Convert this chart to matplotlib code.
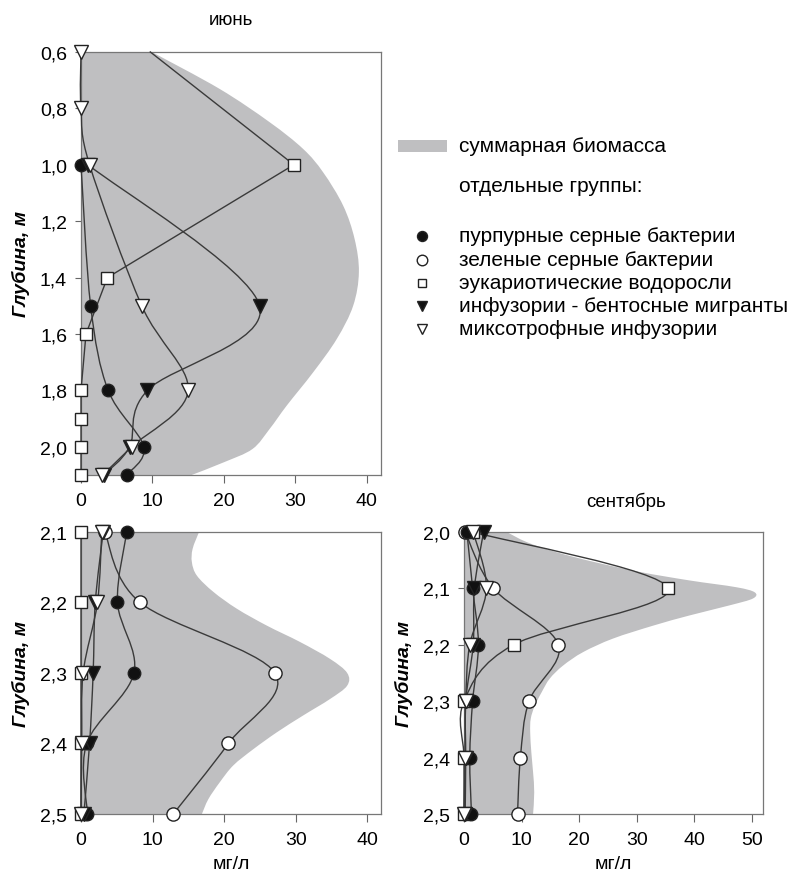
import numpy as np
import matplotlib
matplotlib.use('Agg')
import matplotlib.pyplot as plt
from matplotlib.path import Path
from matplotlib.patches import PathPatch, Rectangle

plt.rcParams['font.family'] = ['Liberation Sans', 'DejaVu Sans']
plt.rcParams['font.size'] = 14

# ---- June, 0.6-2.1 m ----
jun_total_d = [0.6, 0.731, 0.849, 0.944, 1.027, 1.145, 1.263, 1.381, 1.5, 1.618,
               1.736, 1.854, 1.937, 2.008, 2.055, 2.1]
jun_total_x = [9.9, 19.4, 26.4, 31.1, 33.9, 36.7, 38.3, 38.9, 38.1, 35.8,
               32.5, 28.8, 26.4, 24.0, 20.0, 15.5]

jun_purple_d = [1.0, 1.5, 1.8, 2.0, 2.1]
jun_purple_x = [0.0, 1.35, 3.8, 8.8, 6.4]
jun_algae_d = [0.6, 1.0, 1.4, 1.6, 1.8, 1.9, 2.0, 2.1]
jun_algae_x = [9.7, 29.8, 3.7, 0.7, 0.0, 0.0, 0.0, 0.0]
jun_benthic_d = [1.0, 1.5, 1.8, 2.0, 2.1]
jun_benthic_x = [1.0, 25.0, 9.3, 6.8, 3.2]
jun_mixo_d = [0.6, 0.8, 1.0, 1.5, 1.8, 2.0, 2.1]
jun_mixo_x = [0.0, 0.0, 1.2, 8.5, 15.0, 7.1, 3.0]

# ---- June, 2.1-2.5 m ----
jun2_d = [2.1, 2.2, 2.3, 2.4, 2.5]
jun2_purple = [6.4, 5.1, 7.4, 0.8, 0.9]
jun2_green = [3.3, 8.25, 27.1, 20.6, 12.9]
jun2_algae = [0.0, 0.0, 0.0, 0.0, 0.0]
jun2_benthic = [3.1, 2.0, 1.7, 1.2, 0.4]
jun2_mixo = [2.9, 2.3, 0.3, 0.1, 0.0]

jun2_total_d = [2.1, 2.124, 2.143, 2.162, 2.185, 2.209, 2.233, 2.256, 2.28, 2.3,
                2.318, 2.337, 2.36, 2.384, 2.408, 2.431, 2.455, 2.479, 2.5]
jun2_total_x = [16.5, 15.6, 15.5, 16.2, 18.5, 21.8, 26.0, 30.6, 34.8, 37.2,
                37.2, 34.8, 31.1, 27.4, 24.1, 21.3, 19.4, 17.8, 16.9]

# ---- September, 2.0-2.5 m ----
sep_d = [2.0, 2.1, 2.2, 2.3, 2.4, 2.5]
sep_purple = [0.5, 1.5, 2.5, 1.5, 1.0, 1.3]
sep_green = [0.2, 5.1, 16.4, 11.3, 9.8, 9.3]
sep_algae = [1.5, 35.5, 8.6, 0.0, 0.0, 0.0]
sep_benthic = [3.4, 1.8, 1.6, 0.3, 0.3, 0.2]
sep_mixo = [1.6, 3.9, 1.0, 0.3, 0.2, 0.0]

sep_total_d = [2.0, 2.018, 2.036, 2.053, 2.071, 2.086, 2.098, 2.107, 2.118, 2.13,
               2.148, 2.166, 2.189, 2.213, 2.237, 2.26, 2.284, 2.308, 2.331, 2.355,
               2.391, 2.426, 2.462, 2.5]
sep_total_x = [7.4, 10.9, 16.1, 22.5, 30.6, 39.2, 47.3, 50.5, 50.2, 46.2,
               39.2, 32.9, 25.9, 20.7, 17.2, 14.9, 13.5, 12.3, 11.6, 11.5,
               11.7, 12.0, 12.2, 12.0]

labels = ['пурпурные серные бактерии', 'зеленые серные бактерии',
          'эукариотические водоросли', 'инфузории - бентосные мигранты',
          'миксотрофные инфузории']

GRAY = '#bfbfc1'
LINE = '#3a3a3a'
EDGE = '#222222'
styles = {
    'purple': dict(marker='o', mfc='#111111', ms=9),
    'green': dict(marker='o', mfc='white', ms=9.5),
    'algae': dict(marker='s', mfc='white', ms=8),
    'benthic': dict(marker='v', mfc='#111111', ms=9.5),
    'mixo': dict(marker='v', mfc='white', ms=9.5),
}


def bezier(x, d):
    # Catmull-Rom curve through the points, as cubic bezier pieces
    pts = np.column_stack([x, d]).astype(float)
    verts = [pts[0]]
    codes = [Path.MOVETO]
    n = len(pts)
    for i in range(n - 1):
        p0 = pts[max(i - 1, 0)]
        p1 = pts[i]
        p2 = pts[i + 1]
        p3 = pts[min(i + 2, n - 1)]
        verts += [p1 + (p2 - p0) / 6, p2 - (p3 - p1) / 6, p2]
        codes += [Path.CURVE4] * 3
    return verts, codes


def total_fill(ax, x, d):
    verts, codes = bezier(x, d)
    verts = [(0, d[0])] + verts + [(0, d[-1]), (0, d[0])]
    codes = [Path.MOVETO, Path.LINETO] + codes[1:] + [Path.LINETO, Path.CLOSEPOLY]
    ax.add_patch(PathPatch(Path(verts, codes), fc=GRAY, ec='none', lw=0, zorder=1))


def series(ax, x, d, kind, curve=True, mark=slice(0, None)):
    if curve:
        verts, codes = bezier(x, d)
        ax.add_patch(PathPatch(Path(verts, codes), fill=False, ec=LINE, lw=1.0,
                               zorder=3, clip_on=False))
    else:
        ax.plot(x, d, color=LINE, lw=1.0, zorder=3, clip_on=False)
    st = styles[kind]
    ax.plot(np.asarray(x)[mark], np.asarray(d)[mark], ls='none', mec=EDGE, mew=1.0,
            zorder=4, clip_on=False, **st)


def style_axes(ax, xmax, ylim, yticks, xticks):
    ax.set_xlim(0, xmax)
    ax.set_ylim(ylim[1], ylim[0])
    ax.set_yticks(yticks)
    ax.set_yticklabels([('%.1f' % t).replace('.', ',') for t in yticks])
    ax.set_xticks(xticks)
    for s in ax.spines.values():
        s.set_color('#777777')
        s.set_linewidth(0.9)
    ax.tick_params(axis='x', direction='out', length=6, pad=6, color='#666666')
    ax.tick_params(axis='y', direction='out', length=4, pad=6, color='#666666')
    ax.set_ylabel('Глубина, м', fontweight='bold', fontstyle='italic')
    ax.yaxis.set_label_coords(-0.17, 0.5)


fig = plt.figure(figsize=(7.91, 8.78), dpi=100)

# June upper
ax1 = fig.add_axes([0.1024, 0.4579, 0.3793, 0.4818])
total_fill(ax1, jun_total_x, jun_total_d)
series(ax1, jun_algae_x, jun_algae_d, 'algae', curve=False, mark=slice(1, None))
series(ax1, jun_purple_x, jun_purple_d, 'purple')
series(ax1, jun_benthic_x, jun_benthic_d, 'benthic')
series(ax1, jun_mixo_x, jun_mixo_d, 'mixo')
style_axes(ax1, 42, (0.6, 2.1), [0.6, 0.8, 1.0, 1.2, 1.4, 1.6, 1.8, 2.0], [0, 10, 20, 30, 40])
ax1.set_title('июнь', fontsize=13.5, pad=20)

# June lower
ax2 = fig.add_axes([0.1024, 0.0718, 0.3799, 0.3212])
total_fill(ax2, jun2_total_x, jun2_total_d)
series(ax2, jun2_algae, jun2_d, 'algae')
series(ax2, jun2_green, jun2_d, 'green')
series(ax2, jun2_purple, jun2_d, 'purple')
series(ax2, jun2_benthic, jun2_d, 'benthic')
series(ax2, jun2_mixo, jun2_d, 'mixo')
style_axes(ax2, 42, (2.1, 2.5), [2.1, 2.2, 2.3, 2.4, 2.5], [0, 10, 20, 30, 40])
ax2.set_xlabel('мг/л')
ax2.xaxis.set_label_coords(0.5, -0.145)

# September
ax3 = fig.add_axes([0.5866, 0.0718, 0.3784, 0.3212])
total_fill(ax3, sep_total_x, sep_total_d)
series(ax3, sep_algae, sep_d, 'algae')
series(ax3, sep_green, sep_d, 'green')
series(ax3, sep_purple, sep_d, 'purple')
series(ax3, sep_benthic, sep_d, 'benthic')
series(ax3, sep_mixo, sep_d, 'mixo')
style_axes(ax3, 52, (2.0, 2.5), [2.0, 2.1, 2.2, 2.3, 2.4, 2.5], [0, 10, 20, 30, 40, 50])
ax3.set_xlabel('мг/л')
ax3.xaxis.set_label_coords(0.5, -0.145)
ax3.set_title('сентябрь', fontsize=13.5, pad=19, x=0.54)

# legend drawn in figure pixel space
lax = fig.add_axes([0, 0, 1, 1], zorder=5)
lax.set_xlim(0, 791)
lax.set_ylim(878, 0)
lax.axis('off')
lax.add_patch(Rectangle((398, 141), 49, 12, color=GRAY, lw=0))
lax.text(459, 147, 'суммарная биомасса', va='center', ha='left', fontsize=15)
lax.text(459, 186, 'отдельные группы:', va='center', ha='left', fontsize=15)
rows = [237, 260.5, 283.5, 307, 330]
for kind, lab, yy in zip(['purple', 'green', 'algae', 'benthic', 'mixo'], labels, rows):
    st = dict(styles[kind])
    st['ms'] = st['ms'] * 0.8
    lax.plot([421.5], [yy], ls='none', mec=EDGE, mew=1.0, **st)
    lax.text(459, yy, lab, va='center', ha='left', fontsize=15)

fig.savefig('out.png', dpi=100)
